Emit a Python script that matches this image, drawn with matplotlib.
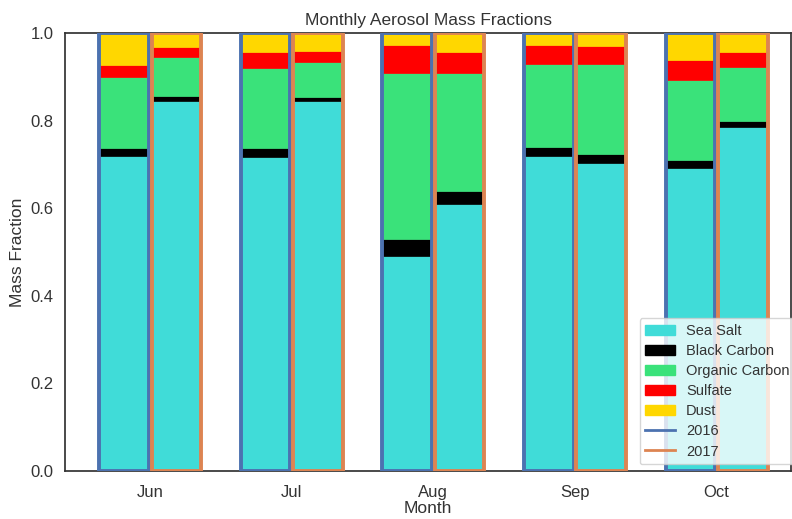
import matplotlib
matplotlib.use("Agg")
import matplotlib.pyplot as plt
import numpy as np
from matplotlib.patches import Patch
from matplotlib.lines import Line2D

months = ["Jun", "Jul", "Aug", "Sep", "Oct"]
years = ["2016", "2017"]
species = ["Sea Salt", "Black Carbon", "Organic Carbon", "Sulfate", "Dust"]

sea_salt_2016 = [0.720, 0.717, 0.490, 0.720, 0.693]
black_carbon_2016 = [0.018, 0.020, 0.039, 0.020, 0.018]
organic_carbon_2016 = [0.161, 0.184, 0.381, 0.189, 0.183]
sulfate_2016 = [0.028, 0.036, 0.063, 0.044, 0.044]
dust_2016 = [0.073, 0.043, 0.027, 0.027, 0.062]

sea_salt_2017 = [0.846, 0.845, 0.609, 0.704, 0.786]
black_carbon_2017 = [0.010, 0.010, 0.030, 0.020, 0.014]
organic_carbon_2017 = [0.089, 0.080, 0.269, 0.206, 0.122]
sulfate_2017 = [0.023, 0.025, 0.049, 0.041, 0.035]
dust_2017 = [0.032, 0.040, 0.043, 0.029, 0.043]

species_colors = ["#40DCD8", "#000000", "#3AE27A", "#FF0000", "#FFD700"]
year_colors = ["#4C72B0", "#DD8452"]

text_color = "#333333"
plt.rcParams['font.family'] = ['Liberation Sans', 'DejaVu Sans']
plt.rcParams['text.color'] = text_color
plt.rcParams['axes.labelcolor'] = text_color
plt.rcParams['xtick.color'] = text_color
plt.rcParams['ytick.color'] = text_color

fig = plt.figure(figsize=(7.92, 5.19), dpi=100)
ax = fig.add_axes([0.082, 0.0925, 0.917, 0.8435])

data = {
    "2016": [sea_salt_2016, black_carbon_2016, organic_carbon_2016, sulfate_2016, dust_2016],
    "2017": [sea_salt_2017, black_carbon_2017, organic_carbon_2017, sulfate_2017, dust_2017],
}

x = np.arange(len(months))
width = 0.35
offsets = [-0.182, 0.188]
for yi, yr in enumerate(years):
    bottom = np.zeros(len(months))
    for si, vals in enumerate(data[yr]):
        vals = np.array(vals)
        ax.bar(x + offsets[yi], vals, width, bottom=bottom, color=species_colors[si],
               edgecolor=species_colors[si], linewidth=0.5, zorder=2)
        bottom += vals
    ax.bar(x + offsets[yi], bottom, width, fill=False, edgecolor=year_colors[yi],
           linewidth=2.8, zorder=3)

ax.set_xlim(-0.6, 4.53)
ax.set_ylim(0, 1.0)
ax.set_xticks(x)
ax.set_xticklabels(months, fontsize=12)
ax.set_yticks([0.0, 0.2, 0.4, 0.6, 0.8, 1.0])
ax.set_yticklabels(["0.0", "0.2", "0.4", "0.6", "0.8", "1.0"], fontsize=12)
ax.tick_params(axis="x", length=0, pad=10)
ax.tick_params(axis="y", length=0, pad=8)
ax.set_xlabel("Month", fontsize=12.5, labelpad=1)
ax.set_ylabel("Mass Fraction", fontsize=12.5)
ax.set_title("Monthly Aerosol Mass Fractions", fontsize=12.5)
for s in ax.spines.values():
    s.set_color("#333333")
    s.set_linewidth(1.25)

handles = [Patch(facecolor=c, edgecolor=c, label=l) for c, l in zip(species_colors, species)]
handles += [Line2D([0], [0], color=c, lw=2, label=l) for c, l in zip(year_colors, years)]
ax.legend(handles=handles, loc="lower right", fontsize=10.5, framealpha=0.8,
          labelspacing=0.42, bbox_to_anchor=(1.012, 0.005), borderaxespad=0.3)

fig.savefig("out.png", dpi=100)
